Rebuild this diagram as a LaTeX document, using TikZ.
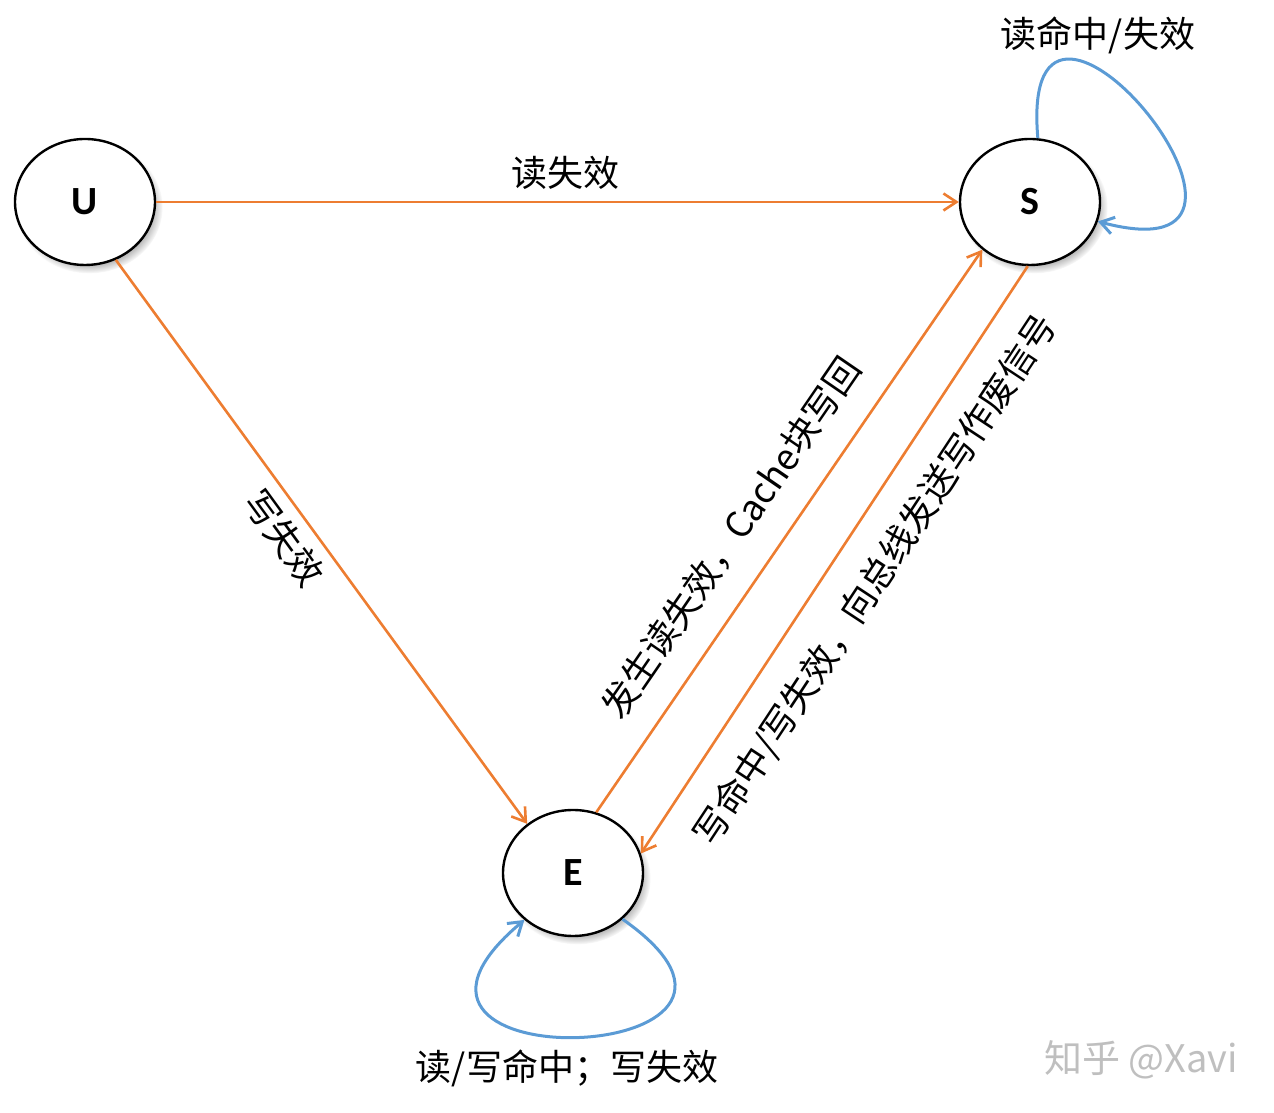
\documentclass[tikz,border=0pt]{standalone}
\usepackage{fontspec}
\newfontfamily\cjk{Noto Sans CJK SC}
\newfontfamily\carlito{Carlito}
\usetikzlibrary{arrows.meta,shapes.geometric,shadows,fadings}

\begin{document}
\begin{tikzpicture}[
    x=1pt, y=1pt,                      % 1 unit = 1 px of the sheet
    >={Straight Barb[length=13pt,width=17pt]},
    state/.style={ellipse,draw=black,line width=2.4pt,fill=white,
      minimum width=140pt,minimum height=126pt,inner sep=0pt,
      font=\carlito\bfseries\fontsize{40}{44}\selectfont,
      circular drop shadow={shadow xshift=4pt,shadow yshift=-5pt,
        shadow scale=1.05,opacity=0.6}},
    trans/.style={->,tranC,line width=2.6pt},
    hold/.style={->,holdC,line width=3pt},
    lbl/.style={text=black,font=\cjk\fontsize{36}{40}\selectfont,inner sep=0pt},
  ]
  \definecolor{tranC}{RGB}{237,125,49}
  \definecolor{holdC}{RGB}{91,155,213}

  \useasboundingbox (0,0) rectangle (1274,1113);

  %% ---------------- states ----------------
  \node[state] (U) at (85,911)  {U};
  \node[state] (S) at (1030,911) {S};
  \node[state] (E) at (573,240) {E};

  %% ---------------- transitions ----------------
  \draw[trans] (U.east) -- node[lbl,above=11pt,pos=0.51] (lUS) {读失效} (S.west);
  \draw[trans] (U.-62) -- node[lbl,sloped,below=10pt,pos=0.464] (lUE) {写失效} (E.133);
  \draw[trans] (E.69) -- node[lbl,sloped,above=26pt,pos=0.444] (lES)
        {发生读失效，Cache块写回} (S.-135);
  \draw[trans] (S.-92) -- node[lbl,sloped,below=26pt,pos=0.492] (lSE)
        {写命中/写失效，向总线发送写作废信号} (E.16);

  %% ---------------- self loops ----------------
  \draw[hold] (S.83) .. controls +(95:240) and +(-15:240) .. (S.-16);
  \draw[hold] (E.-43) .. controls +(-35:258) and +(-140:258) .. (E.-136);
  \node[lbl] (lSS) at (1098,1078) {读命中/失效};
  \node[lbl] (lEE) at (567,45) {读/写命中；写失效};

  \node[lbl,text=black!25,font=\cjk\fontsize{38}{42}\selectfont] (mark) at (1141,53) {知乎 @Xavi};
\end{tikzpicture}
\end{document}
